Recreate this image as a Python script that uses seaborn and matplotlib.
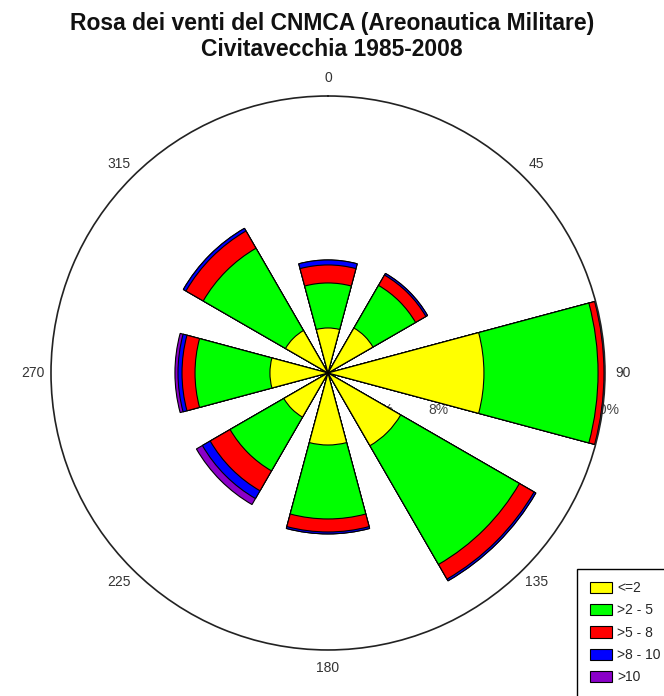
import numpy as np
import pandas as pd
import matplotlib
matplotlib.use("Agg")
import matplotlib.pyplot as plt
import seaborn as sns
from matplotlib.patches import Patch
from matplotlib import transforms

# ---------------- data ----------------
directions = [0, 45, 90, 135, 180, 225, 270, 315]          # degrees (compass)
speed_classes = ["<=2", ">2 - 5", ">5 - 8", ">8 - 10", ">10"]
class_colors = ["#ffff00", "#00ff00", "#ff0000", "#0000ff", "#8a00c8"]
freq_le2  = [3.25, 3.75, 11.26, 6.06, 5.20, 3.68, 4.19, 3.54]   # %
freq_2_5  = [3.25, 3.55, 8.24, 9.90, 5.34, 4.48, 5.41, 6.86]
freq_5_8  = [1.30, 0.86, 0.43, 1.22, 0.94, 1.66, 0.94, 1.44]
freq_8_10 = [0.36, 0.14, 0.07, 0.15, 0.14, 0.65, 0.29, 0.22]
freq_gt10 = [0.00, 0.00, 0.00, 0.00, 0.00, 0.50, 0.22, 0.00]
angle_ticks = [0, 45, 90, 135, 180, 225, 270, 315]
radial_ticks = [4, 8, 12, 16, 20]
r_max = 20
title = "Rosa dei venti del CNMCA (Areonautica Militare)\nCivitavecchia 1985-2008"

# ---------------- style ----------------
sns.set_theme(style="white")
plt.rcParams["font.family"] = ["Liberation Sans", "DejaVu Sans"]

fig = plt.figure(figsize=(6.64, 6.96), dpi=100)
ax = fig.add_axes([0.0768, 0.0661, 0.8343, 0.796], projection="polar")
ax.set_theta_zero_location("N")
ax.set_theta_direction(-1)

series = [freq_le2, freq_2_5, freq_5_8, freq_8_10, freq_gt10]
cum = np.cumsum(np.array(series), axis=0)
theta = np.deg2rad(directions)

# draw outermost cumulative layer first, inner layers on top
for k in range(len(series) - 1, -1, -1):
    df = pd.DataFrame({"theta": theta, "freq": cum[k]})
    sns.barplot(data=df, x="theta", y="freq", native_scale=True, orient="x",
                width=30 / 45, color=class_colors[k], saturation=1,
                edgecolor="black", linewidth=0.8, errorbar=None, ax=ax,
                zorder=2)

ax.set_xlabel("")
ax.set_ylabel("")
ax.set_ylim(0, r_max)
ax.set_yticks([])
ax.grid(False)

# theta ticks
ax.set_xticks(np.deg2rad(angle_ticks))
ax.set_xticklabels([str(a) for a in angle_ticks])
ax.set_xticks(np.deg2rad(np.array(angle_ticks) + 22.5), minor=True)
ax.tick_params(axis="x", which="major", direction="in", length=20, width=1.0,
               color="#222222", pad=6, labelsize=10, labelcolor="#333333")
ax.tick_params(axis="x", which="minor", direction="in", length=9, width=1.0,
               color="#222222")
ax.spines["polar"].set_linewidth(1.2)
ax.spines["polar"].set_color("#222222")

# radial labels: horizontal row below centre, partly hidden behind bars
off = transforms.offset_copy(ax.transData, fig=fig, x=0, y=-37, units="dots")
for rv in radial_ticks:
    ax.text(np.deg2rad(90), rv, f"{rv}%", transform=off, ha="center",
            va="center", fontsize=10, color="#444444", zorder=1)

fig.text(0.5, 1 - 12 / 696, title, fontsize=16.5, fontweight="bold",
         ha="center", va="top", color="#111111", linespacing=1.15)

handles = [Patch(facecolor=c, edgecolor="black", linewidth=0.8)
           for c in class_colors]
leg = fig.legend(handles, speed_classes, loc="upper left",
                 bbox_to_anchor=(0.869, 0.183), fontsize=10,
                 frameon=True, fancybox=False, framealpha=1,
                 edgecolor="black", handlelength=1.6, handleheight=0.85,
                 handletextpad=0.4, labelspacing=0.6, borderpad=0.9,
                 borderaxespad=0)
leg.get_frame().set_linewidth(1.0)

fig.savefig("out.png", dpi=100)
